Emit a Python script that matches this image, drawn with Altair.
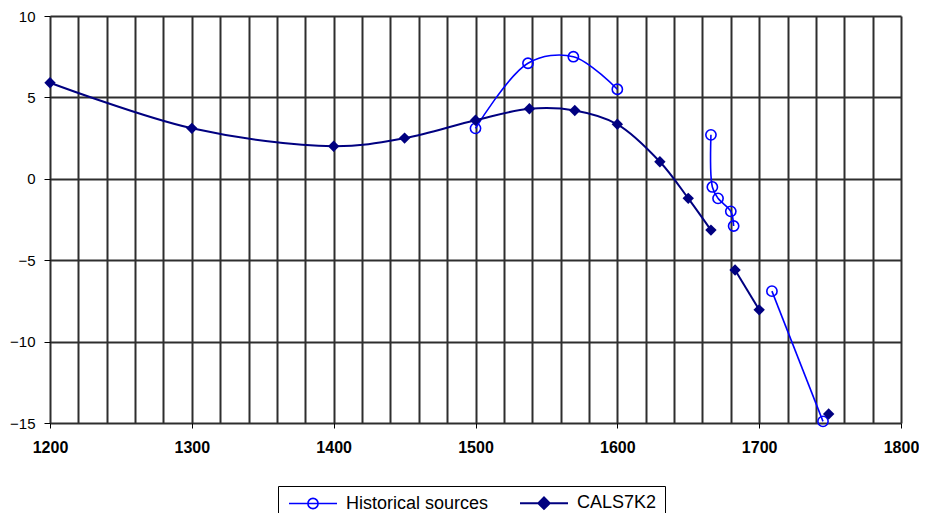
import altair as alt
import pandas as pd

# Historical sources (open circles, blue)
hist_year = [1500, 1537, 1569, 1600, 1666, 1667, 1671, 1680, 1682, 1709, 1745]
hist_val = [3.1, 7.1, 7.5, 5.5, 2.7, -0.5, -1.2, -2.0, -2.9, -6.9, -14.9]
hist_seg = ["H1", "H1", "H1", "H1", "H2", "H2", "H2", "H2", "H2", "H3", "H3"]

# CALS7K2 (filled diamonds, navy)
cals_year = [1200, 1300, 1400, 1450, 1500, 1538, 1570, 1600, 1630, 1650, 1666, 1683, 1700, 1749]
cals_val = [5.9, 3.1, 2.0, 2.5, 3.6, 4.3, 4.2, 3.35, 1.05, -1.2, -3.15, -5.6, -8.05, -14.45]
cals_seg = ["C1"] * 11 + ["C2", "C2", "C3"]

series_names = ["Historical sources", "CALS7K2"]
series_colors = ["#0000ff", "#000080"]
series_fills = ["#ffffff", "#000080"]

x_ticks = list(range(1200, 1801, 20))
y_ticks = [-15, -10, -5, 0, 5, 10]

df = pd.concat([
    pd.DataFrame({"year": hist_year, "val": hist_val, "seg": hist_seg, "series": series_names[0]}),
    pd.DataFrame({"year": cals_year, "val": cals_val, "seg": cals_seg, "series": series_names[1]}),
], ignore_index=True)

FONT = "Liberation Sans"

circ_path = "M-1,0L7,0M3.85,0A0.85,0.85 0 1,1 2.15,0A0.85,0.85 0 1,1 3.85,0Z"
diam_path = "M-1,0L7,0M3,-0.95L3.95,0L3,0.95L2.05,0Z"

x_enc = alt.X(
    "year:Q",
    scale=alt.Scale(domain=[1200, 1800], nice=False, zero=False),
    axis=alt.Axis(
        values=x_ticks, tickCount=100, format="d", title=None,
        labelExpr="datum.value % 100 === 0 ? datum.label : ''",
        grid=True, gridColor="#2e2e2e", gridWidth=2, gridOpacity=1,
        domain=False, tickColor="black", tickSize=5, tickWidth=1,
        tickOpacity={"condition": {"test": "datum.value % 100 === 0", "value": 1}, "value": 0},
        labelFont=FONT, labelFontSize=16, labelFontWeight="bold", labelColor="black",
        labelPadding=11, labelFlush=False, labelOverlap=False, labelBound=False,
    ),
)
y_enc = alt.Y(
    "val:Q",
    scale=alt.Scale(domain=[-15, 10], nice=False, zero=False),
    axis=alt.Axis(
        values=y_ticks, tickCount=100, format="d", title=None,
        grid=True, gridColor="#2e2e2e", gridWidth=2, gridOpacity=1,
        domain=False, tickColor="black", tickSize=6, tickWidth=1,
        labelFont=FONT, labelFontSize=15, labelColor="black",
        labelPadding=9, labelFlush=False, labelOverlap=False,
    ),
)

color_scale = alt.Scale(domain=series_names, range=series_colors)

legend = alt.Legend(
    title=None, orient="none", legendX=228, legendY=470, direction="horizontal",
    strokeColor="black", fillColor="white", padding=8,
    symbolSize=144, labelOffset=42, columnPadding=27,
    symbolStrokeWidth=1.5, symbolOpacity=1,
    labelFont=FONT, labelFontSize=18, labelColor="black",
)

lines = alt.Chart(df).mark_line(interpolate="catmull-rom").encode(
    x=x_enc, y=y_enc,
    color=alt.Color("series:N", scale=color_scale),
    strokeWidth=alt.StrokeWidth("series:N", scale=alt.Scale(domain=series_names, range=[1.6, 2.0]), legend=None),
    detail="seg:N",
)

hist_pts = alt.Chart(df).transform_filter(
    alt.datum.series == series_names[0]
).mark_point(shape="circle", size=105, filled=False, color="#0000ff", strokeWidth=1.6, opacity=1).encode(
    x="year:Q", y="val:Q"
)

cals_pts = alt.Chart(df).transform_filter(
    alt.datum.series == series_names[1]
).mark_point(shape="diamond", size=130, filled=True, color="#000080", opacity=1).encode(
    x="year:Q", y="val:Q"
)

# legend-carrying layer (no rows drawn)
legend_layer = alt.Chart(df).transform_filter("datum.year < 0").mark_point(opacity=1, strokeWidth=1.5).encode(
    x="year:Q", y="val:Q",
    color=alt.Color("series:N", scale=color_scale, legend=legend),
    fill=alt.Fill("series:N", scale=alt.Scale(domain=series_names, range=series_fills), legend=legend),
    shape=alt.Shape("series:N", scale=alt.Scale(domain=series_names, range=[circ_path, diam_path]), legend=legend),
)

chart = alt.layer(lines, hist_pts, cals_pts, legend_layer).properties(
    width=851, height=407,
    autosize=alt.AutoSizeParams(type="none"),
    padding={"left": 42, "top": 8, "right": 18, "bottom": 90},
).configure(font=FONT).configure_view(strokeWidth=0)

chart.save("out.html", embed_options={"renderer": "svg", "actions": False})
